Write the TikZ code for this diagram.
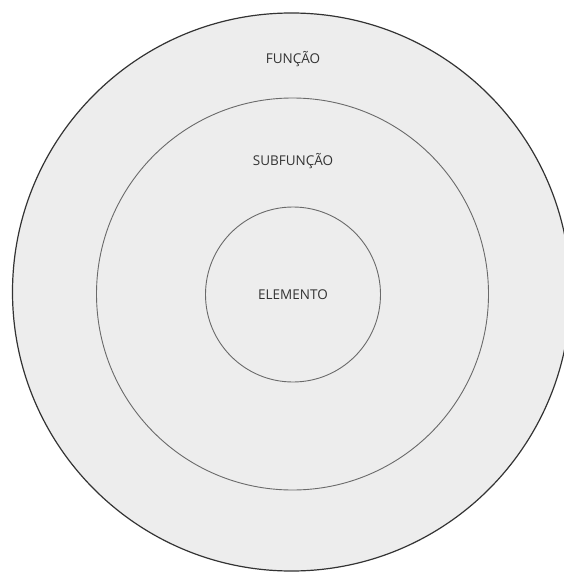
\documentclass[tikz,border=0pt]{standalone}
\usepackage{fontspec}
\setmainfont{Open Sans}
\usetikzlibrary{positioning}
\definecolor{ringfill}{HTML}{EDEDED}
\definecolor{ringedge}{HTML}{333333}
\definecolor{ringinner}{HTML}{6A6A6A}
\definecolor{labeltext}{HTML}{333333}

\begin{document}
\begin{tikzpicture}[
  x=1pt, y=-1pt,
  ring/.style={circle, draw=ringinner, fill=ringfill, line width=0.9pt, inner sep=0pt},
  ringlabel/.style={font=\fontsize{13.5}{16}\selectfont, text=labeltext, inner sep=0pt}
]
  \useasboundingbox (0,0) rectangle (563,572);
  \node[ring, draw=ringedge, line width=1.2pt, minimum size=558pt] (funcao) at (291.5,292) {};
  \node[ring, minimum size=392pt] (subfuncao) at (292.5,294) {};
  \node[ring, minimum size=175pt] (elemento) at (293,294.5) {};
  \node[ringlabel] (funcaotxt) at (293,59) {FUNÇÃO};
  \node[ringlabel] (subfuncaotxt) at (293,161) {SUBFUNÇÃO};
  \node[ringlabel] (elementotxt) at (293,295) {ELEMENTO};
\end{tikzpicture}
\end{document}
